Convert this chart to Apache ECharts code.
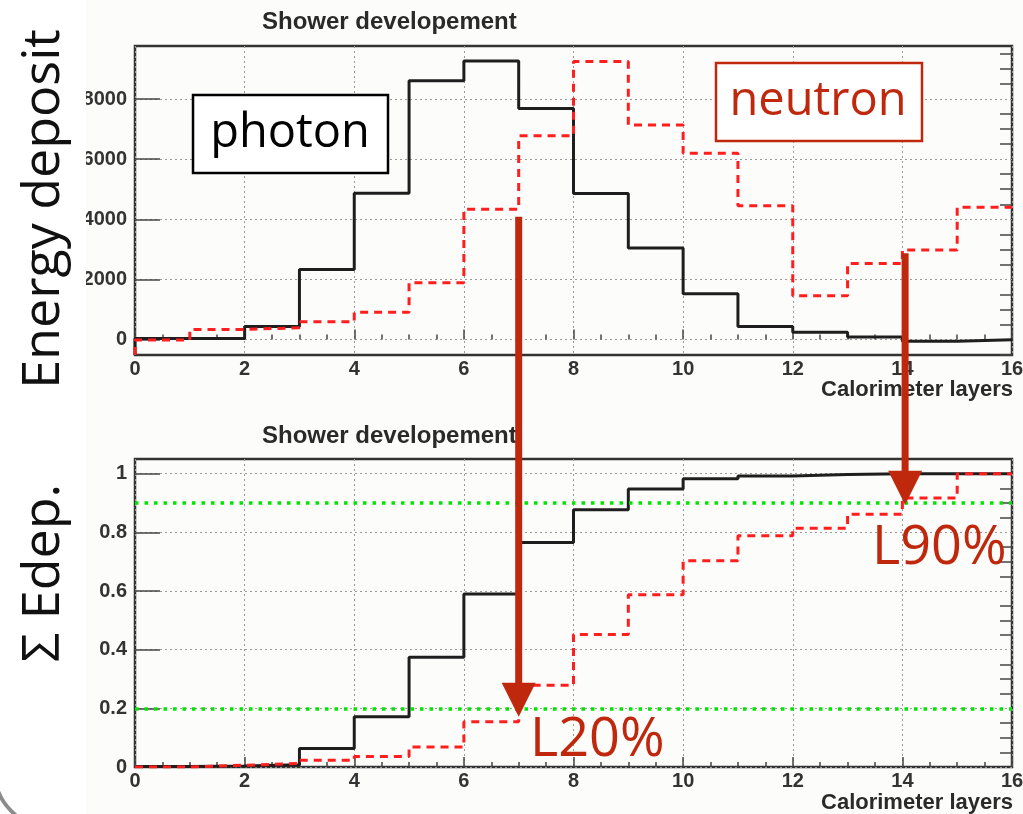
<!DOCTYPE html>
<html><head><meta charset="utf-8">
<script src="https://cdn.jsdelivr.net/npm/echarts@6/dist/echarts.min.js"></script>
<style>html,body{margin:0;padding:0;background:#fff}#c{width:1023px;height:814px}</style>
</head><body><div id="c"></div>
<script>
// ---- data ----
const photonEdep  = [30, 30, 430, 2330, 4870, 8610, 9270, 7690, 4860, 3040, 1520, 430, 240, 80, -60, -10];
const neutronEdep = [-20, 330, 390, 590, 900, 1890, 4330, 6780, 9250, 7140, 6200, 4450, 1450, 2530, 2980, 4400];
const photonCum   = [0.002, 0.003, 0.008, 0.063, 0.171, 0.374, 0.590, 0.765, 0.877, 0.948, 0.983, 0.992, 0.997, 1.0, 1.0, 1.0];
const neutronCum  = [0.0, 0.006, 0.012, 0.023, 0.036, 0.068, 0.154, 0.279, 0.452, 0.587, 0.703, 0.788, 0.814, 0.862, 0.917, 1.0];
const thresholds  = [0.2, 0.9];
const edepTicks   = [0, 2000, 4000, 6000, 8000];
const edepMinor   = [-500, 500, 1000, 1500, 2500, 3000, 3500, 4500, 5000, 5500, 6500, 7000, 7500, 8500, 9000, 9500];
const cumTicks    = [0, 0.2, 0.4, 0.6, 0.8, 1];
const cumMinor    = [0.05, 0.1, 0.15, 0.25, 0.3, 0.35, 0.45, 0.5, 0.55, 0.65, 0.7, 0.75, 0.85, 0.9, 0.95];
const arrows = [
  {layer: 7.0,  fromEdep: 4080, toCum: 0.171, label: 'L20%'},
  {layer: 14.05, fromEdep: 2865, toCum: 0.894, label: 'L90%'}
];
const titleText = 'Shower developement';
const xName = 'Calorimeter layers';

// ---- styling ----
const EDEP_MIN = -520, EDEP_MAX = 9770, CUM_MIN = 0, CUM_MAX = 1.05;
const RED = '#c0280e';
const rootFont = '"Liberation Sans", Arial, sans-serif';
const slideFont = '"Open Sans", "Noto Sans", sans-serif';

function steps(vals, base) {
  const pts = [];
  if (base !== undefined) pts.push([0, base]);
  vals.forEach((v, i) => { pts.push([i, v]); pts.push([i + 1, v]); });
  return pts;
}

function xAxis(gi) {
  return {
    type: 'value', gridIndex: gi, min: 0, max: 16, interval: 2,
    axisLine: {show: false},
    axisTick: {show: true, inside: true, length: 10, lineStyle: {color: '#444', width: 1.5}},
    minorTick: {show: true, splitNumber: 4, length: 5, lineStyle: {color: '#444', width: 1.5}},
    splitLine: {show: true, lineStyle: {color: '#9a9a9a', type: [2, 3], width: 1}},
    axisLabel: {fontFamily: rootFont, fontWeight: 'bold', fontSize: 20, color: '#333', margin: 4,
      formatter: v => String(v)}
  };
}
function yMain(gi, mn, mx, ticks) {
  return {
    type: 'value', gridIndex: gi, min: mn, max: mx,
    axisLine: {show: false},
    axisTick: {show: true, inside: true, length: 25, customValues: ticks, lineStyle: {color: '#444', width: 1.5}},
    splitLine: {show: true, lineStyle: {color: '#9a9a9a', type: [2, 3], width: 1}},
    axisLabel: {customValues: ticks, fontFamily: rootFont, fontWeight: 'bold', fontSize: 20, color: '#333', margin: 8,
      formatter: v => String(v)}
  };
}
function yMinor(gi, mn, mx, ticks) {
  return {
    type: 'value', gridIndex: gi, min: mn, max: mx,
    axisLine: {show: false}, splitLine: {show: false}, axisLabel: {show: false},
    axisTick: {show: true, inside: true, length: 12, customValues: ticks, lineStyle: {color: '#444', width: 1.5}}
  };
}

const blackLine = {color: '#1e1e1e', width: 3};
const redDash = {color: '#ff1e1e', width: 3, type: [8, 6]};

const option = {
  backgroundColor: '#fcfcfa',
  animation: false,
  title: [
    {text: titleText, left: 262, top: 10, padding: 0,
     textStyle: {fontFamily: rootFont, fontWeight: 'bold', fontSize: 24, color: '#2a2a2a'}},
    {text: titleText, left: 262, top: 424, padding: 0,
     textStyle: {fontFamily: rootFont, fontWeight: 'bold', fontSize: 24, color: '#2a2a2a'}}
  ],
  grid: [
    {left: 135, right: 11, top: 46, height: 309, show: true, borderColor: '#333', borderWidth: 2.5,
     backgroundColor: 'transparent', containLabel: false, outerBoundsMode: 'none'},
    {left: 135, right: 11, top: 459, height: 308, show: true, borderColor: '#333', borderWidth: 2.5,
     backgroundColor: 'transparent', containLabel: false, outerBoundsMode: 'none'}
  ],
  xAxis: [xAxis(0), xAxis(1)],
  yAxis: [
    yMain(0, EDEP_MIN, EDEP_MAX, edepTicks),
    yMain(1, CUM_MIN, CUM_MAX, cumTicks),
    yMinor(0, EDEP_MIN, EDEP_MAX, edepMinor),
    yMinor(1, CUM_MIN, CUM_MAX, cumMinor)
  ],
  series: [
    {type: 'line', xAxisIndex: 0, yAxisIndex: 0, data: steps(photonEdep, EDEP_MIN), showSymbol: false, lineStyle: blackLine, z: 3},
    {type: 'line', xAxisIndex: 0, yAxisIndex: 0, data: steps(neutronEdep, EDEP_MIN), showSymbol: false, lineStyle: redDash, z: 4},
    {type: 'line', xAxisIndex: 1, yAxisIndex: 1, data: steps(photonCum), showSymbol: false, lineStyle: blackLine, z: 3},
    {type: 'line', xAxisIndex: 1, yAxisIndex: 1, data: steps(neutronCum), showSymbol: false, lineStyle: redDash, z: 4,
     markLine: {silent: true, symbol: 'none', label: {show: false},
       lineStyle: {color: '#00e600', width: 3.5, type: [3.5, 6]},
       data: thresholds.map(t => ({yAxis: t}))}}
  ]
};

const chart = echarts.init(document.getElementById('c'), null, {renderer: 'canvas'});
chart.setOption(option);

const g = [
  {type: 'rect', shape: {x: 0, y: 0, width: 86, height: 814}, style: {fill: '#ffffff'}, z: 50},
  {type: 'arc', shape: {cx: 54, cy: 769, r: 60, startAngle: Math.PI / 2, endAngle: Math.PI},
   style: {stroke: '#8c8c8c', lineWidth: 4, fill: null}, z: 51},
  {type: 'text', x: 44, y: 209, rotation: Math.PI / 2, z: 60,
   style: {text: 'Energy deposit', font: '52px ' + slideFont, fill: '#111', align: 'center', verticalAlign: 'middle'}},
  {type: 'text', x: 44, y: 573, rotation: Math.PI / 2, z: 60,
   style: {text: 'Σ Edep.', font: '52px ' + slideFont, fill: '#111', align: 'center', verticalAlign: 'middle'}},
  {type: 'text', x: 1013, y: 390, z: 40,
   style: {text: xName, font: 'bold 22px ' + rootFont, fill: '#2a2a2a', align: 'right', verticalAlign: 'middle'}},
  {type: 'text', x: 1013, y: 803, z: 40,
   style: {text: xName, font: 'bold 22px ' + rootFont, fill: '#2a2a2a', align: 'right', verticalAlign: 'middle'}},
  {type: 'rect', shape: {x: 193, y: 95, width: 195, height: 78}, style: {fill: '#fff', stroke: '#000', lineWidth: 2.5}, z: 60},
  {type: 'text', x: 290, y: 134, z: 61,
   style: {text: 'photon', font: '47px ' + slideFont, fill: '#000', align: 'center', verticalAlign: 'middle'}},
  {type: 'rect', shape: {x: 716, y: 63, width: 206, height: 78}, style: {fill: '#fff', stroke: RED, lineWidth: 2.5}, z: 60},
  {type: 'text', x: 818, y: 102, z: 61,
   style: {text: 'neutron', font: '47px ' + slideFont, fill: RED, align: 'center', verticalAlign: 'middle'}}
];
const labelPos = [[530, 741], [872, 549]];
arrows.forEach((a, i) => {
  const p0 = chart.convertToPixel({gridIndex: 0}, [a.layer, a.fromEdep]);
  const p1 = chart.convertToPixel({gridIndex: 1}, [a.layer, a.toCum]);
  g.push({type: 'line', shape: {x1: p0[0], y1: p0[1], x2: p1[0], y2: p1[1] - 30}, style: {stroke: RED, lineWidth: 7}, z: 70});
  g.push({type: 'polygon', shape: {points: [[p1[0] - 17, p1[1] - 34], [p1[0] + 17, p1[1] - 34], [p1[0], p1[1]]]}, style: {fill: RED}, z: 70});
  g.push({type: 'text', x: labelPos[i][0], y: labelPos[i][1], z: 71,
    style: {text: a.label, font: '54px ' + slideFont, fill: RED, align: 'left', verticalAlign: 'middle'}});
});
chart.setOption({graphic: g});
</script>
</body></html>
